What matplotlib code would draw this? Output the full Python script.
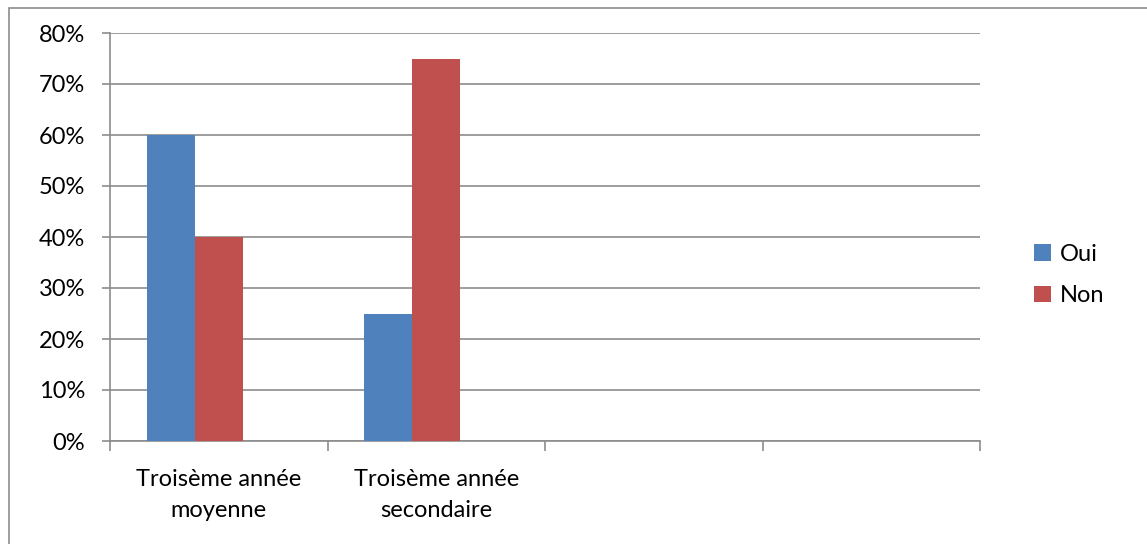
import matplotlib
matplotlib.use("Agg")
import matplotlib.pyplot as plt
from matplotlib.patches import Rectangle
from matplotlib.ticker import FuncFormatter, FixedLocator

categories = ["Troisème année\nmoyenne", "Troisème année\nsecondaire", "", ""]
oui = [0.60, 0.25, None, None]
non = [0.40, 0.75, None, None]
series_names = ["Oui", "Non"]
colors = ["#4F81BD", "#C0504D"]

plt.rcParams['font.family'] = ['Lato', 'DejaVu Sans']

W, H = 1147, 544
fig = plt.figure(figsize=(W/100, H/100), dpi=100)
ax = fig.add_axes([110/W, 1-441/H, (980-110)/W, (441-33)/H])

n = len(categories)
bw = 0.22
for i in range(n):
    if oui[i] is not None:
        ax.bar(i - bw, oui[i], width=bw, color=colors[0], edgecolor='none',
               label=series_names[0] if i == 0 else None, zorder=3)
    if non[i] is not None:
        ax.bar(i, non[i], width=bw, color=colors[1], edgecolor='none',
               label=series_names[1] if i == 0 else None, zorder=3)

ax.set_xlim(-0.5, n - 0.5)
ax.set_ylim(0, 0.8)
ax.set_yticks([i/10 for i in range(9)])
ax.yaxis.set_major_formatter(FuncFormatter(lambda v, p: f"{v*100:.0f}%"))
ax.grid(axis='y', color='#8c8c8c', linewidth=1.2, zorder=0)

ax.xaxis.set_major_locator(FixedLocator([i - 0.5 for i in range(n + 1)]))
ax.xaxis.set_minor_locator(FixedLocator(list(range(n))))
ax.set_xticklabels([], minor=False)
ax.set_xticklabels(categories, minor=True, fontsize=17, linespacing=1.6)
ax.tick_params(axis='x', which='major', length=7, color='#8c8c8c', width=1.2)
ax.tick_params(axis='x', which='minor', length=0, pad=20)
ax.tick_params(axis='y', length=6, color='#8c8c8c', width=1.2, labelsize=17, pad=12)

for s in ['top', 'right']:
    ax.spines[s].set_visible(False)
for s in ['left', 'bottom']:
    ax.spines[s].set_color('#8c8c8c')
    ax.spines[s].set_linewidth(1.2)

leg = fig.legend(loc='center left', bbox_to_anchor=(1013/W, 1-275/H), frameon=False,
                 fontsize=17, handlelength=0.7, handleheight=0.7, handletextpad=0.4,
                 labelspacing=0.85)

fig.patches.append(Rectangle((9/W, -0.1), 1.2, 1 - 8/H + 0.1, transform=fig.transFigure,
                             fill=False, edgecolor='#8c8c8c', linewidth=1.2))

fig.savefig("out.png", dpi=100)
